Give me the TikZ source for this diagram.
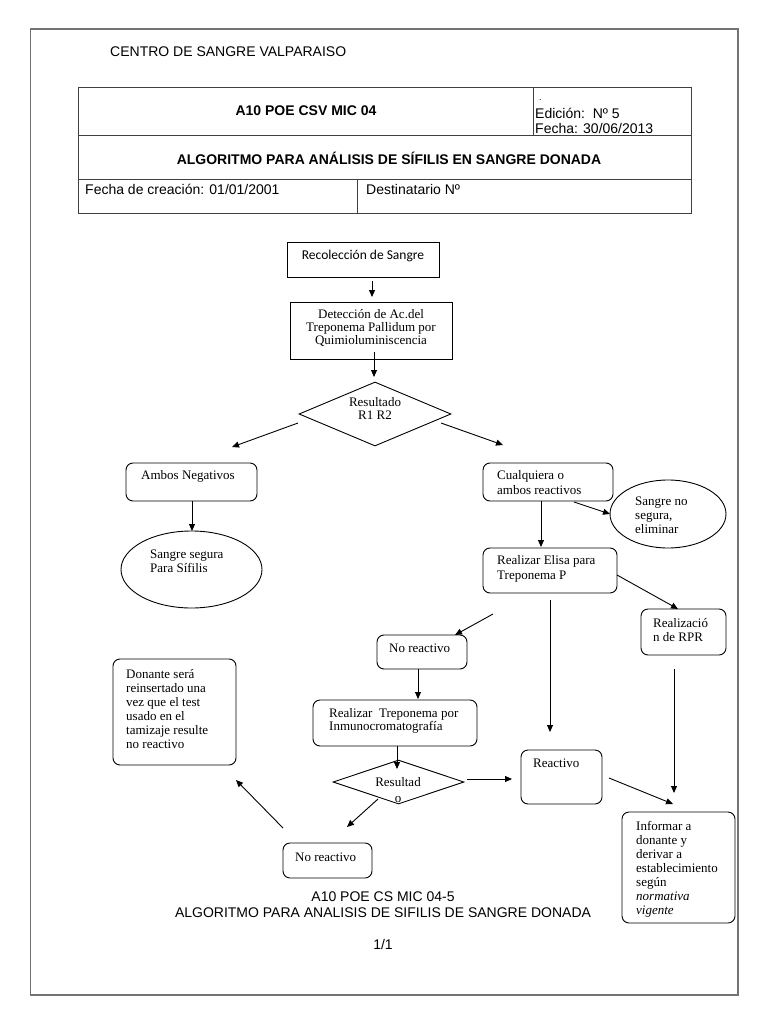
\documentclass[tikz,border=0pt]{standalone}
\usepackage{fontspec}
\setmainfont{Liberation Serif}
\newfontfamily\arialf{Liberation Sans}
\newfontfamily\calf{Carlito}
\usetikzlibrary{arrows.meta,shapes.geometric}
\begin{document}
\begin{tikzpicture}[x=1pt,y=-1pt,
  rbox/.style={draw=black, line width=0.9pt, rounded corners=7pt, inner sep=0pt},
  sbox/.style={draw=black, line width=0.9pt, inner sep=0pt},
  dia/.style={draw=black, diamond, line width=0.9pt, inner sep=0pt},
  ell/.style={draw=black, ellipse, line width=0.9pt, inner sep=0pt},
  txt/.style={inner sep=0pt, align=left, anchor=west, font=\fontsize{13}{14}\selectfont},
  ctxt/.style={inner sep=0pt, align=center, font=\fontsize{13}{13}\selectfont},
  hdr/.style={inner sep=0pt, font=\arialf\fontsize{14}{16}\selectfont},
  hdrb/.style={inner sep=0pt, font=\arialf\bfseries\fontsize{14}{16}\selectfont},
  arr/.style={line width=0.9pt, -{Triangle[length=7pt,width=6pt]}},
  frameline/.style={draw=black!55, line width=1.4pt},
  tabline/.style={draw=black!75, line width=0.9pt}]
\useasboundingbox (0,0) rectangle (768,1024);
\fill[white] (0,0) rectangle (768,1024);
% page frame
\draw[frameline] (30.5,29) rectangle (738,995);
% header
\node[hdr, anchor=west] (centro) at (110,52) {CENTRO DE SANGRE VALPARAISO};
\draw[tabline] (78,87) rectangle (691,213);
\draw[tabline] (78,135) -- (691,135);
\draw[tabline] (78,179) -- (691,179);
\draw[tabline] (533,87) -- (533,135);
\draw[tabline] (357,179) -- (357,213);
\node[hdrb] (code) at (306,111) {A10 POE CSV MIC 04};
\node[hdr, anchor=west, font=\arialf\fontsize{9}{10}\selectfont] (dot) at (539,100) {.};
\node[hdr, anchor=west] (edic) at (535,113) {Edición:\ \ Nº 5};
\node[hdr, anchor=west] (fecha) at (535,128) {Fecha: 30/06/2013};
\node[hdrb] (titulo) at (389,158) {ALGORITMO PARA ANÁLISIS DE SÍFILIS EN SANGRE DONADA};
\node[hdr, anchor=west] (creacion) at (85,189) {Fecha de creación: 01/01/2001};
\node[hdr, anchor=west] (destin) at (366,189) {Destinatario Nº};
% shapes
\node[sbox, minimum width=152pt, minimum height=35pt] (rec) at (363,259.5) {};
\node[sbox, minimum width=162pt, minimum height=57pt] (det) at (371,330.5) {};
\node[dia, minimum width=152pt, minimum height=64pt] (d1) at (375,414) {};
\node[rbox, minimum width=131pt, minimum height=38pt] (amb) at (191.5,482) {};
\node[ell, minimum width=141pt, minimum height=77pt] (seg) at (191.5,569.5) {};
\node[rbox, minimum width=130pt, minimum height=38pt] (cual) at (548,482) {};
\node[ell, minimum width=116pt, minimum height=68pt] (nos) at (668,514) {};
\node[rbox, minimum width=134pt, minimum height=45pt] (elisa) at (550,570.5) {};
\node[rbox, minimum width=85pt, minimum height=46pt] (rpr) at (683.5,632) {};
\node[rbox, minimum width=90pt, minimum height=34pt] (nr1) at (422,652) {};
\node[rbox, minimum width=164pt, minimum height=46pt] (trep) at (395,723) {};
\node[dia, minimum width=131pt, minimum height=44pt] (d2) at (398.5,782) {};
\node[rbox, minimum width=81pt, minimum height=54pt] (react) at (561.5,777) {};
\node[rbox, minimum width=89pt, minimum height=35pt] (nr2) at (327.5,860.5) {};
\node[rbox, minimum width=123pt, minimum height=106pt] (don) at (174.5,712) {};
\node[rbox, minimum width=113pt, minimum height=111pt] (inf) at (678.5,867.5) {};
% texts
\node[inner sep=0pt, font=\calf\fontsize{13.5}{15}\selectfont] (rect) at (363,256) {Recolección de Sangre};
\node[ctxt] (dett) at (371,328) {Detección de Ac.del\\Treponema Pallidum por\\Quimioluminiscencia};
\node[ctxt] (d1t) at (375,408) {Resultado\\R1 R2};
\node[txt] (ambt) at (141,476) {Ambos Negativos};
\node[txt] (segt) at (150,561.5) {Sangre segura\\Para Sífilis};
\node[txt, font=\fontsize{13}{15}\selectfont] (cualt) at (497,482.5) {Cualquiera o\\ambos reactivos};
\node[txt] (nost) at (635,515.5) {Sangre no\\segura,\\eliminar};
\node[txt, font=\fontsize{13}{15}\selectfont] (elisat) at (497,568.5) {Realizar Elisa para\\Treponema P};
\node[txt] (rprt) at (653,630) {Realizació\\n de RPR};
\node[txt] (nr1t) at (389,648) {No reactivo};
\node[txt, font=\fontsize{13}{13}\selectfont] (trept) at (329,720.5) {Realizar\enspace Treponema por\\Inmunocromatografía};
\node[ctxt, font=\fontsize{13}{16}\selectfont] (d2t) at (398,790) {Resultad\\o};
\node[txt] (reactt) at (533,763) {Reactivo};
\node[txt] (nr2t) at (295,857) {No reactivo};
\node[txt] (dont) at (126,709) {Donante será\\reinsertado una\\vez que el test\\usado en el\\tamizaje resulte\\no reactivo};
\node[txt] (inft) at (636,869) {Informar a\\donante y\\derivar a\\establecimiento\\según\\\textit{normativa}\\\textit{vigente}};
% connector end points
\coordinate (a1s) at (372,281); \coordinate (a1e) at (372,297);
\coordinate (a2s) at (374,352); \coordinate (a2e) at (374,377);
\coordinate (a3s) at (298,423); \coordinate (a3e) at (232,447);
\coordinate (a4s) at (441,423); \coordinate (a4e) at (503,445);
\coordinate (a5e) at (192,531);
\coordinate (a6e) at (541,547);
\coordinate (a7s) at (574,502); \coordinate (a7e) at (610,514);
\coordinate (a8s) at (617,575); \coordinate (a8e) at (678,609);
\coordinate (a9s) at (493,614); \coordinate (a9e) at (455,635);
\coordinate (a10s) at (550,600); \coordinate (a10e) at (550,732);
\coordinate (a11e) at (418,699);
\coordinate (a12s) at (674,669); \coordinate (a12e) at (674,793);
\coordinate (a13e) at (397,769);
\coordinate (a14s) at (467,779); \coordinate (a14e) at (512,779);
\coordinate (a15s) at (609,778); \coordinate (a15e) at (673,804);
\coordinate (a16s) at (378,799); \coordinate (a16e) at (347,827);
\coordinate (a17s) at (283,828); \coordinate (a17e) at (236,780);
% connectors
\draw[arr] (a1s) -- (a1e);
\draw[arr] (a2s) -- (a2e);
\draw[arr] (a3s) -- (a3e);
\draw[arr] (a4s) -- (a4e);
\draw[arr] (amb.south -| a5e) -- (a5e);
\draw[arr] (cual.south -| a6e) -- (a6e);
\draw[arr] (a7s) -- (a7e);
\draw[arr] (a8s) -- (a8e);
\draw[arr] (a9s) -- (a9e);
\draw[arr] (a10s) -- (a10e);
\draw[arr] (nr1.south -| a11e) -- (a11e);
\draw[arr] (a12s) -- (a12e);
\draw[arr] (trep.south -| a13e) -- (a13e);
\draw[arr] (a14s) -- (a14e);
\draw[arr] (a15s) -- (a15e);
\draw[arr] (a16s) -- (a16e);
\draw[arr] (a17s) -- (a17e);
% footer
\node[hdr] (foot1) at (383,897) {A10 POE CS MIC 04-5};
\node[hdr] (foot2) at (383,913) {ALGORITMO PARA ANALISIS DE SIFILIS DE SANGRE DONADA};
\node[hdr] (foot3) at (383,944) {1/1};
\end{tikzpicture}
\end{document}
